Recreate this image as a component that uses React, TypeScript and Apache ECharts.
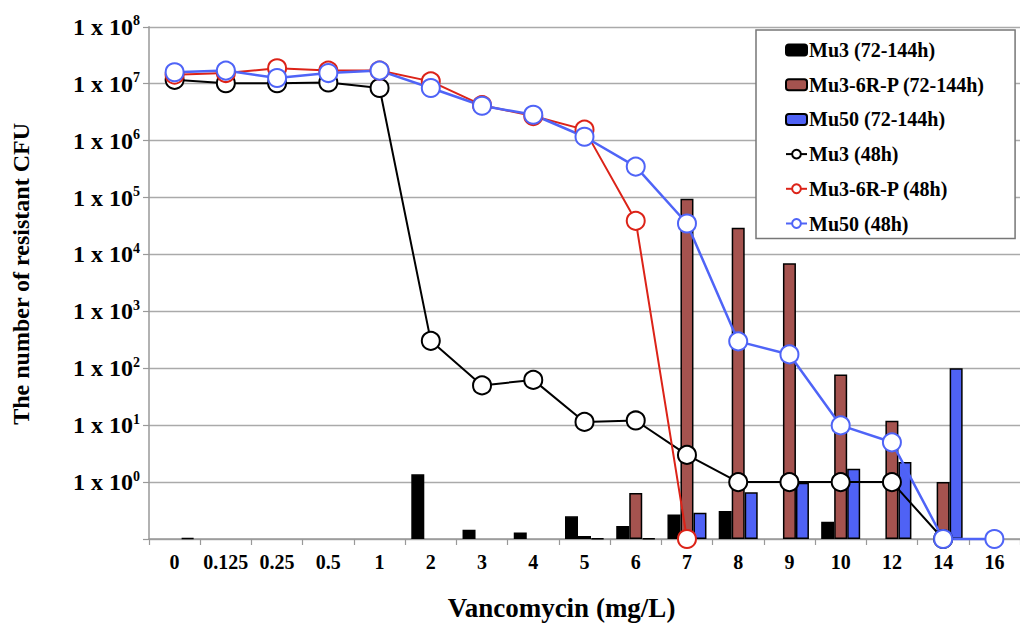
import React, { useEffect, useRef } from "react";
import * as echarts from "echarts";

const FONT = '"Liberation Serif", "Times New Roman", Times, serif';

const categories = ["0", "0.125", "0.25", "0.5", "1", "2", "3", "4", "5", "6", "7", "8", "9", "10", "12", "14", "16"];

// 72-144h (bars)
const mu3Bars = [null, null, null, null, null, 1.37, 0.145, 0.13, 0.25, 0.17, 0.27, 0.31, null, 0.2, null, null, null];
const mu3RBars = [null, null, null, null, null, null, null, null, 0.113, 0.64, 95000, 29500, 7000, 78, 12, 1.0, null];
const mu50Bars = [0.104, null, null, null, null, null, null, null, 0.103, 0.103, 0.29, 0.66, 0.97, 1.72, 2.26, 100, null];

// 48h (lines); 0 = no resistant CFU (drawn on the axis floor)
const mu3Line = [1.17e7, 1.02e7, 1.02e7, 1.05e7, 8.4e6, 303, 50, 62.5, 11.4, 12.1, 3.0, 1, 1, 1, 1, 0, null];
const mu3RLine = [1.44e7, 1.54e7, 1.87e7, 1.7e7, 1.7e7, 1.1e7, 4.2e6, 2.7e6, 1.56e6, 3.9e4, 0, null, null, null, null, null, null];
const mu50Line = [1.59e7, 1.7e7, 1.26e7, 1.54e7, 1.7e7, 8.4e6, 4.1e6, 2.85e6, 1.17e6, 3.5e5, 3.5e4, 297, 175, 9.9, 5.0, 0, 0];

const Y_MIN = 0.1;
const Y_MAX = 1e8;

const floorZero = (arr: (number | null)[]) => arr.map((v) => (v === 0 ? Y_MIN : v));

export default function App() {
  const ref = useRef<HTMLDivElement>(null);

  useEffect(() => {
    const chart = echarts.init(ref.current!, null, { renderer: "svg" });

    const barSeries = (name: string, data: (number | null)[], color: string) => ({
      name,
      type: "bar",
      data,
      barWidth: 13,
      barGap: "0%",
      itemStyle: { color, borderColor: "#000", borderWidth: 1.5 },
      z: 2,
    });

    const lineSeries = (name: string, data: (number | null)[], color: string, width: number) => ({
      name,
      type: "line",
      data: floorZero(data),
      symbol: "circle",
      symbolSize: 18,
      clip: false,
      lineStyle: { color, width },
      itemStyle: { color: "#fff", borderColor: color, borderWidth: 2 },
      z: 5,
    });

    chart.setOption({
      animation: false,
      backgroundColor: "#fff",
      grid: { left: 149, top: 26.8, width: 885, height: 513.7, containLabel: false },
      legend: {
        orient: "vertical",
        left: 756,
        top: 30,
        padding: [10, 30, 5, 29],
        itemGap: 14.7,
        itemWidth: 21,
        itemHeight: 11,
        backgroundColor: "#fff",
        borderColor: "#777",
        borderWidth: 1.5,
        textStyle: { fontFamily: FONT, fontWeight: "bold", fontSize: 20, color: "#000", padding: [0, 0, 0, -3] },
      },
      xAxis: {
        type: "category",
        data: categories,
        name: "Vancomycin (mg/L)",
        nameLocation: "middle",
        nameGap: 55,
        nameTextStyle: { fontFamily: FONT, fontWeight: "bold", fontSize: 27, color: "#000", padding: [0, 46, 0, 0] },
        axisLine: { lineStyle: { color: "#999", width: 1.5 } },
        axisTick: { show: true, length: 6, lineStyle: { color: "#999", width: 1.2 } },
        axisLabel: { interval: 0, margin: 13, fontFamily: FONT, fontWeight: "bold", fontSize: 20, color: "#000" },
      },
      yAxis: {
        type: "log",
        logBase: 10,
        min: Y_MIN,
        max: Y_MAX,
        interval: 1,
        startValue: Y_MIN,
        name: "The number of resistant CFU",
        nameLocation: "middle",
        nameGap: 116,
        nameTextStyle: { fontFamily: FONT, fontWeight: "bold", fontSize: 24, color: "#000", padding: [0, 0, 0, 18] },
        axisLine: { show: true, lineStyle: { color: "#999", width: 1.5 } },
        axisTick: { show: true, length: 6, lineStyle: { color: "#999", width: 1.2 } },
        splitLine: { show: true, lineStyle: { color: "#aaa", width: 1.3 } },
        axisLabel: {
          margin: 9,
          formatter: (v: number) => {
            const e = Math.round(Math.log10(v));
            if (e < 0) return "";
            return `{b|1 x 10}{s|${e}}`;
          },
          rich: {
            b: { fontFamily: FONT, fontWeight: "bold", fontSize: 24, color: "#000", lineHeight: 26 },
            s: { fontFamily: FONT, fontWeight: "bold", fontSize: 14, color: "#000", lineHeight: 15, verticalAlign: "top" },
          },
        },
      },
      series: [
        barSeries("Mu3 (72-144h)", mu3Bars, "#000000"),
        barSeries("Mu3-6R-P (72-144h)", mu3RBars, "#a5534f"),
        barSeries("Mu50 (72-144h)", mu50Bars, "#4f62f5"),
        lineSeries("Mu3 (48h)", mu3Line, "#000000", 2),
        lineSeries("Mu3-6R-P (48h)", mu3RLine, "#dc2318", 2),
        lineSeries("Mu50 (48h)", mu50Line, "#4f64f7", 2.5),
      ],
    });

    return () => chart.dispose();
  }, []);

  return (
    <div
      ref={ref}
      style={{ position: "fixed", left: 0, top: 0, width: 1020, height: 626, background: "#fff" }}
    />
  );
}
